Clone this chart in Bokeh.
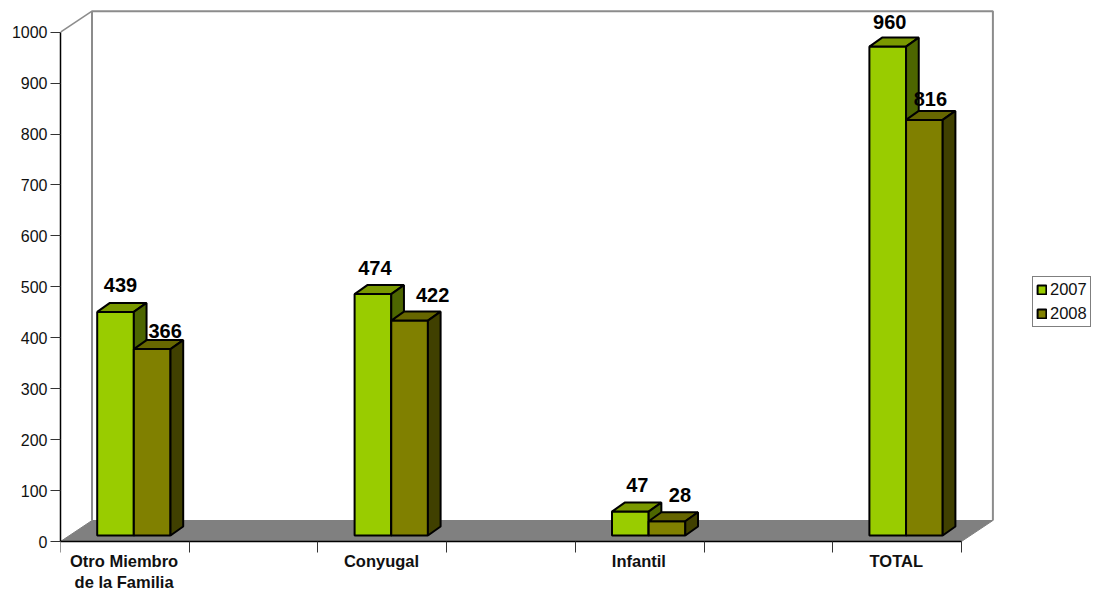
from bokeh.plotting import figure
from bokeh.models import Range1d, FixedTicker, Legend, LegendItem, ColumnDataSource
from bokeh.core.properties import value
from bokeh.embed import file_html
from bokeh.resources import INLINE

categories = ["Otro Miembro\nde la Familia", "Conyugal", "Infantil", "TOTAL"]
series_2007 = [439, 474, 47, 960]
series_2008 = [366, 422, 28, 816]
y_ticks = [0, 100, 200, 300, 400, 500, 600, 700, 800, 900, 1000]

FONT = "Liberation Sans"
PX_X = 128.7            # pixels per category slot
PX_Y = 0.5093           # pixels per value unit
slots = [0.5, 2.5, 4.5, 6.5]
n_slots = 7

floor_dx, floor_dy = 31.5 / PX_X, 21 / PX_Y
bar_dx, bar_dy = 12.7 / PX_X, 9 / PX_Y
bar_w = 36.65 / PX_X
shift = 9 / PX_X
base = 6 / PX_Y

# manual label offsets in pixels, from the bar's front-top centre
off_2007 = [(5, 27), (2, 26), (7, 27), (2, 25)]
off_2008 = [(13, 18), (23, 26), (13, 26), (6, 21)]

p = figure(width=1095, height=591, output_backend="svg", toolbar_location=None,
           x_range=Range1d(0, (1095 - 60) / PX_X), y_range=Range1d(-50 / PX_Y, 541 / PX_Y),
           min_border_left=60, min_border_right=0, min_border_top=0, min_border_bottom=0,
           outline_line_color=None, background_fill_color="white")
p.grid.visible = False

# floor and walls
p.patch([0, n_slots, n_slots + floor_dx, floor_dx],
        [0, 0, floor_dy, floor_dy], fill_color="#808080", line_color="#808080", line_width=1)
p.line([floor_dx, floor_dx, n_slots + floor_dx, n_slots + floor_dx],
       [floor_dy, 1000 + floor_dy, 1000 + floor_dy, floor_dy], line_color="#8c8c8c", line_width=2)
p.line([0, floor_dx], [1000, 1000 + floor_dy], line_color="#8c8c8c", line_width=1.5)


def bars(vals, offs, slot_shift, front, top, side):
    x0 = [s + shift + slot_shift * bar_w for s in slots]
    centres = [x + bar_w / 2 for x in x0]
    tops = [base + v for v in vals]
    r = p.vbar(x=centres, width=bar_w, bottom=base, top=tops,
               fill_color=front, line_color="black", line_width=2)
    p.patches([[x, x + bar_dx, x + bar_w + bar_dx, x + bar_w] for x in x0],
              [[t, t + bar_dy, t + bar_dy, t] for t in tops],
              fill_color=top, line_color="black", line_width=2)
    p.patches([[x + bar_w, x + bar_w + bar_dx, x + bar_w + bar_dx, x + bar_w] for x in x0],
              [[base, base + bar_dy, t + bar_dy, t] for t in tops],
              fill_color=side, line_color="black", line_width=2)
    src = ColumnDataSource(dict(x=centres, y=tops, t=[str(v) for v in vals],
                                dx=[o[0] for o in offs], dy=[-o[1] for o in offs]))
    p.text(x="x", y="y", text="t", x_offset="dx", y_offset="dy", source=src,
           text_font=value(FONT), text_font_style="bold", text_font_size="20px",
           text_color="black", text_align="center", text_baseline="middle")
    return r


r07 = bars(series_2007, off_2007, -1, "#99CC00", "#7A9900", "#4D6600")
r08 = bars(series_2008, off_2008, 0, "#808000", "#666600", "#404000")

# axes
ya = p.yaxis[0]
ya.ticker = FixedTicker(ticks=y_ticks)
ya.bounds = (0, 1000)
ya.major_tick_out = 10
ya.major_tick_in = 0
ya.minor_tick_out = 0
ya.minor_tick_in = 0
ya.major_label_standoff = 3
ya.major_label_text_font = FONT
ya.major_label_text_font_size = "16px"
ya.major_label_text_color = "#111111"
ya.axis_line_color = "black"
ya.axis_line_width = 1.5
ya.major_tick_line_color = "#333333"

xa = p.xaxis[0]
xa.fixed_location = 0
xa.ticker = FixedTicker(ticks=[s - 0.006 for s in slots], minor_ticks=list(range(n_slots + 1)))
xa.bounds = (0, n_slots)
xa.major_label_overrides = dict(zip([s - 0.006 for s in slots], categories))
xa.major_tick_out = 0
xa.major_tick_in = 0
xa.minor_tick_out = 11
xa.minor_tick_in = 0
xa.minor_tick_line_color = "#333333"
xa.major_label_standoff = -1
xa.major_label_text_font = FONT
xa.major_label_text_font_size = "16.5px"
xa.major_label_text_font_style = "bold"
xa.major_label_text_color = "#111111"
xa.axis_line_color = "black"
xa.axis_line_width = 1.5

legend = Legend(items=[LegendItem(label="2007", renderers=[r07]),
                       LegendItem(label="2008", renderers=[r08])],
                location=(972, 264), orientation="vertical", margin=0, padding=3, spacing=5,
                glyph_width=11, glyph_height=11, label_standoff=3, label_height=17, label_width=36,
                label_text_font=FONT, label_text_font_size="16.5px", label_text_color="#111111",
                border_line_color="black", border_line_width=1.5, background_fill_color="white",
                background_fill_alpha=1)
p.add_layout(legend, "center")

open("out.html", "w").write(file_html(p, INLINE))
